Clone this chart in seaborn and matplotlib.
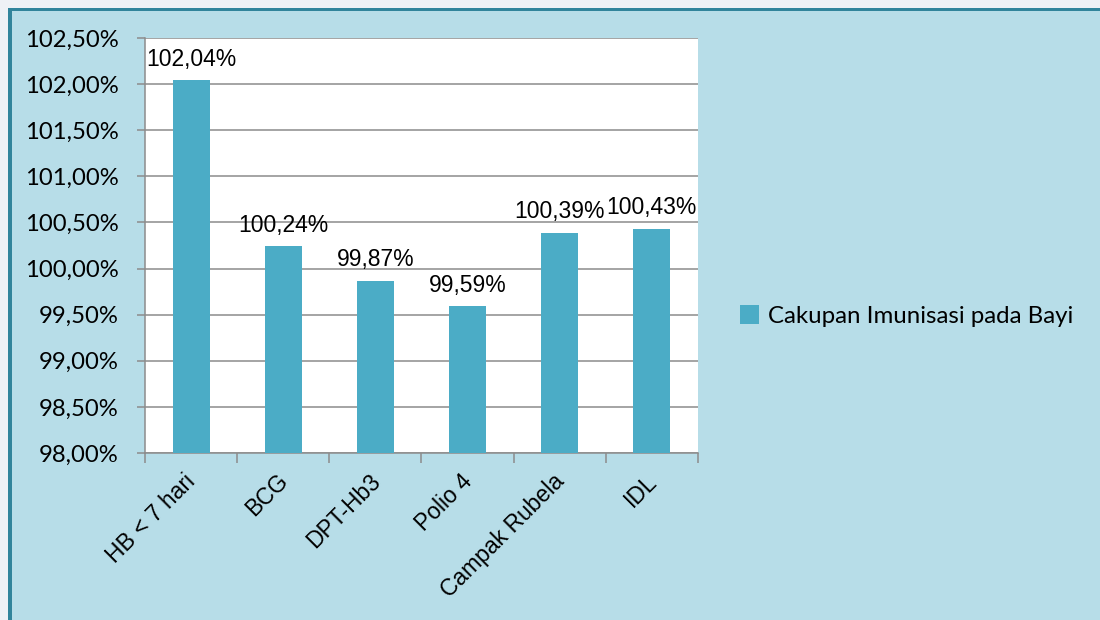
import matplotlib
matplotlib.use("Agg")
import matplotlib.pyplot as plt
import seaborn as sns
import pandas as pd
from matplotlib.patches import Rectangle
from matplotlib.ticker import FuncFormatter, FixedLocator
import matplotlib.transforms as mtransforms

categories = ["HB < 7 hari", "BCG", "DPT-Hb3", "Polio 4", "Campak Rubela", "IDL"]
values = [102.04, 100.24, 99.87, 99.59, 100.39, 100.43]
series_name = "Cakupan Imunisasi pada Bayi"
y_ticks = [98.0, 98.5, 99.0, 99.5, 100.0, 100.5, 101.0, 101.5, 102.0, 102.5]

df = pd.DataFrame({"kategori": categories, "nilai": values, "seri": series_name})

sns.set_theme(style="white")
plt.rcParams['font.family'] = ['Liberation Sans', 'DejaVu Sans']
plt.rcParams['text.color'] = 'black'
plt.rcParams['xtick.color'] = 'black'
plt.rcParams['ytick.color'] = 'black'

bg = "#b7dde8"
bar_color = "#4bacc6"
fig = plt.figure(figsize=(11, 6.2), dpi=100, facecolor=bg)

# outer frame decoration
fig.patches.append(Rectangle((0, 1 - 8 / 620), 1, 8 / 620, transform=fig.transFigure,
                             facecolor="#eef1f5", edgecolor="none", zorder=0))
fig.patches.append(Rectangle((0, 0), 8 / 1100, 1, transform=fig.transFigure,
                             facecolor="#eef1f5", edgecolor="none", zorder=0))
fig.patches.append(Rectangle((8 / 1100, 1 - 11 / 620), 1, 3.5 / 620, transform=fig.transFigure,
                             facecolor="#31849b", edgecolor="none", zorder=1))
fig.patches.append(Rectangle((8 / 1100, 0), 3.5 / 1100, 1 - 8 / 620, transform=fig.transFigure,
                             facecolor="#31849b", edgecolor="none", zorder=1))

ax = fig.add_axes([145 / 1100, 1 - 453 / 620, (698 - 145) / 1100, (453 - 38) / 620])
ax.set_facecolor("white")

sns.barplot(data=df, x="kategori", y="nilai", hue="seri", palette=[bar_color],
            width=0.4, ax=ax, saturation=1, zorder=3, linewidth=0)

ax.set_ylim(98, 102.5)
ax.yaxis.set_major_locator(FixedLocator(y_ticks))
ax.yaxis.set_major_formatter(FuncFormatter(lambda v, p: f"{v:.2f}".replace(".", ",") + "%"))
ax.grid(axis="y", color="#8c8c8c", linewidth=1.1, zorder=0)
ax.set_axisbelow(True)
ax.set_xlim(-0.5, len(categories) - 0.5)
ax.set_xlabel("")
ax.set_ylabel("")

for s in ["top", "right"]:
    ax.spines[s].set_visible(False)
for s in ["left", "bottom"]:
    ax.spines[s].set_color("#8c8c8c")
    ax.spines[s].set_linewidth(1.1)

ax.tick_params(axis="y", which="major", left=True, length=6, width=1.1, color="#8c8c8c",
               labelcolor="black", pad=13)
for lab in ax.get_yticklabels():
    lab.set_family(["Lato", "DejaVu Sans"])
    lab.set_fontsize(17.2)
    lab.set_color("black")

# category boundary ticks on x axis
ax.set_xticks([i - 0.5 for i in range(len(categories) + 1)], minor=True)
ax.tick_params(axis="x", which="minor", bottom=True, length=7, width=1.1, color="#8c8c8c")
ax.tick_params(axis="x", which="major", bottom=False, pad=6, labelcolor="black")
ax.set_xticks(range(len(categories)))
ax.set_xticklabels(categories, rotation=45, ha="right", rotation_mode="anchor", fontsize=16.5,
                   color="black")
for lab in ax.get_xticklabels():
    lab.set_transform(lab.get_transform() + mtransforms.ScaledTranslation(-7 / 100, 0, fig.dpi_scale_trans))

for container in ax.containers:
    ax.bar_label(container, labels=[f"{v:.2f}".replace(".", ",") + "%" for v in values],
                 fontsize=16.5, padding=7, color="black")

leg = ax.legend(loc="center left", bbox_to_anchor=(1.037, 0.33), frameon=False,
                handlelength=0.8, handleheight=0.8, handletextpad=0.35,
                prop={"family": ["Lato", "DejaVu Sans"], "size": 17.3})
for t in leg.get_texts():
    t.set_color("black")

fig.savefig("out.png", dpi=100, facecolor=bg)
